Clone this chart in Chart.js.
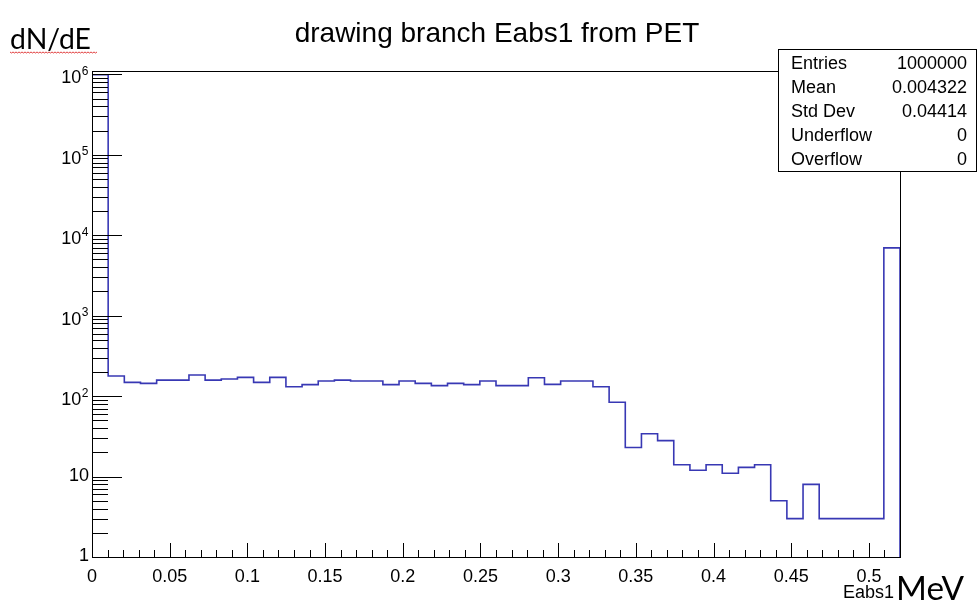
<!DOCTYPE html>
<html>
<head>
<meta charset="utf-8">
<script src="https://cdn.jsdelivr.net/npm/chart.js@4.4.0/dist/chart.umd.min.js"></script>
<style>
  html, body { margin: 0; padding: 0; background: #fff; }
  #c { display: block; }
</style>
</head>
<body>
<canvas id="c" width="978" height="605"></canvas>
<script>
// histogram: 50 bins from 0 to 0.52 MeV
const binWidth = 0.0104;
const counts = [
  988058, 178, 148, 144, 158, 158, 183, 158, 163, 171,
  148, 171, 131, 139, 154, 158, 154, 154, 139, 154,
  144, 135, 144, 139, 154, 135, 135, 169, 140, 154,
  154, 131, 84, 23, 34, 28, 14, 12, 14, 11,
  13, 14, 5, 3, 8, 3, 3, 3, 3, 6970
];
const xMax = 0.52;
const yMin = 1;
const yMax = 1.1e6;

const titleText = 'drawing branch Eabs1 from PET';
const yTitle = 'dN/dE';
const xTitle = 'Eabs1';
const xUnit = 'MeV';
const statLabels = ['Entries', 'Mean', 'Std Dev', 'Underflow', 'Overflow'];
const statValues = ['1000000', '0.004322', '0.04414', '0', '0'];

const rootFont = "'Liberation Sans', Arial, sans-serif";
const slideFont = "Lato, 'Open Sans', sans-serif";

const points = [{ x: 0, y: yMin }];
counts.forEach((c, i) => points.push({ x: +(i * binWidth).toFixed(4), y: c }));
points.push({ x: xMax, y: yMin });

const isPow10 = v => Math.abs(Math.log10(v) - Math.round(Math.log10(v))) < 1e-9;

function fitFont(ctx, text, family, width) {
  ctx.font = '100px ' + family;
  return (100 * width / ctx.measureText(text).width).toFixed(1) + 'px ' + family;
}

const rootFrame = {
  id: 'rootFrame',
  afterDraw(chart) {
    const { ctx, chartArea: a, scales } = chart;
    const xs = scales.x, ys = scales.y;
    ctx.save();
    ctx.strokeStyle = '#000';
    ctx.lineWidth = 1;

    // frame
    ctx.strokeRect(a.left + 0.5, a.top + 0.5, a.right - a.left, a.bottom - a.top);

    // y ticks, inward
    ctx.beginPath();
    ys.ticks.forEach(t => {
      const py = Math.round(ys.getPixelForValue(t.value)) + 0.5;
      const len = isPow10(t.value) ? 30 : 16;
      ctx.moveTo(a.left, py);
      ctx.lineTo(a.left + len, py);
    });
    // x ticks, upward
    xs.ticks.forEach(t => {
      const px = Math.round(xs.getPixelForValue(t.value)) + 0.5;
      const len = Math.round(t.value * 100) % 5 === 0 ? 14 : 7;
      ctx.moveTo(px, a.bottom);
      ctx.lineTo(px, a.bottom - len);
    });
    ctx.stroke();

    // y labels: 1, 10, 10^n with raised exponent
    ctx.fillStyle = '#000';
    ctx.textAlign = 'right';
    ys.ticks.forEach(t => {
      if (!isPow10(t.value)) return;
      const e = Math.round(Math.log10(t.value));
      const py = ys.getPixelForValue(t.value);
      if (e < 2) {
        ctx.font = '18px ' + rootFont;
        ctx.textBaseline = 'middle';
        ctx.fillText(e === 0 ? '1' : '10', 89, py - 1);
      } else {
        ctx.textBaseline = 'alphabetic';
        ctx.font = '12px ' + rootFont;
        const w = ctx.measureText(String(e)).width;
        ctx.fillText(String(e), 88.5, py + 0.5);
        ctx.font = '18px ' + rootFont;
        ctx.fillText('10', 88 - w, py + 9);
      }
    });

    // title
    ctx.textAlign = 'center';
    ctx.textBaseline = 'alphabetic';
    ctx.font = '28px ' + rootFont;
    ctx.fillText(titleText, 497, 42);

    // y title with spell-check squiggle
    ctx.textAlign = 'left';
    ctx.font = fitFont(ctx, yTitle, slideFont, 81);
    ctx.fillText(yTitle, 10, 49);
    ctx.beginPath();
    ctx.strokeStyle = '#e04040';
    ctx.lineWidth = 1;
    for (let x = 10, k = 0; x <= 97; x += 1.5, k++) {
      const yy = 52 + (k % 2 ? 1 : 0);
      if (k === 0) ctx.moveTo(x, yy); else ctx.lineTo(x, yy);
    }
    ctx.stroke();

    // x title + unit
    ctx.fillStyle = '#000';
    ctx.font = '18px ' + rootFont;
    ctx.fillText(xTitle, 843, 598);
    ctx.font = fitFont(ctx, xUnit, slideFont, 68);
    ctx.fillText(xUnit, 896, 600);

    // stats box
    ctx.fillStyle = '#fff';
    ctx.fillRect(778, 49, 199, 122);
    ctx.strokeStyle = '#000';
    ctx.strokeRect(778.5, 49.5, 198, 122);
    ctx.fillStyle = '#000';
    ctx.font = '18px ' + rootFont;
    statLabels.forEach((lab, i) => {
      const by = 68.5 + i * 24.2;
      ctx.textAlign = 'left';
      ctx.fillText(lab, 791, by);
      ctx.textAlign = 'right';
      ctx.fillText(statValues[i], 967, by);
    });
    ctx.restore();
  }
};

new Chart(document.getElementById('c'), {
  type: 'line',
  data: {
    datasets: [{
      data: points,
      stepped: true,
      borderColor: '#3838b4',
      borderWidth: 1.6,
      pointRadius: 0,
      fill: false,
      tension: 0
    }]
  },
  options: {
    responsive: false,
    animation: false,
    devicePixelRatio: 1,
    layout: { padding: { left: 0, top: 71, right: 78, bottom: 0 } },
    plugins: {
      legend: { display: false },
      title: { display: false },
      tooltip: { enabled: false }
    },
    scales: {
      x: {
        type: 'linear',
        min: 0,
        max: xMax,
        grid: { display: false, drawTicks: false },
        border: { display: false },
        afterBuildTicks(s) {
          const t = [];
          for (let i = 0; i <= 52; i++) t.push({ value: i / 100 });
          s.ticks = t;
        },
        afterFit(s) { s.height = 48; },
        ticks: {
          autoSkip: false,
          maxRotation: 0,
          padding: 9,
          color: '#000',
          font: { family: rootFont, size: 18 },
          callback(v) {
            const n = Math.round(v * 100);
            if (n % 5 !== 0 || n > 50) return '';
            return String(+(n / 100).toFixed(2));
          }
        }
      },
      y: {
        type: 'logarithmic',
        min: yMin,
        max: yMax,
        grid: { display: false, drawTicks: false },
        border: { display: false },
        afterBuildTicks(s) {
          const t = [];
          for (let k = 0; k < 6; k++)
            for (let m = 1; m <= 9; m++) t.push({ value: m * Math.pow(10, k) });
          t.push({ value: 1e6 });
          s.ticks = t;
        },
        afterFit(s) { s.width = 92; },
        ticks: {
          autoSkip: false,
          padding: 3,
          font: { family: rootFont, size: 18 },
          callback() { return ''; } // drawn in rootFrame with raised exponents
        }
      }
    }
  },
  plugins: [rootFrame]
});
</script>
</body>
</html>
